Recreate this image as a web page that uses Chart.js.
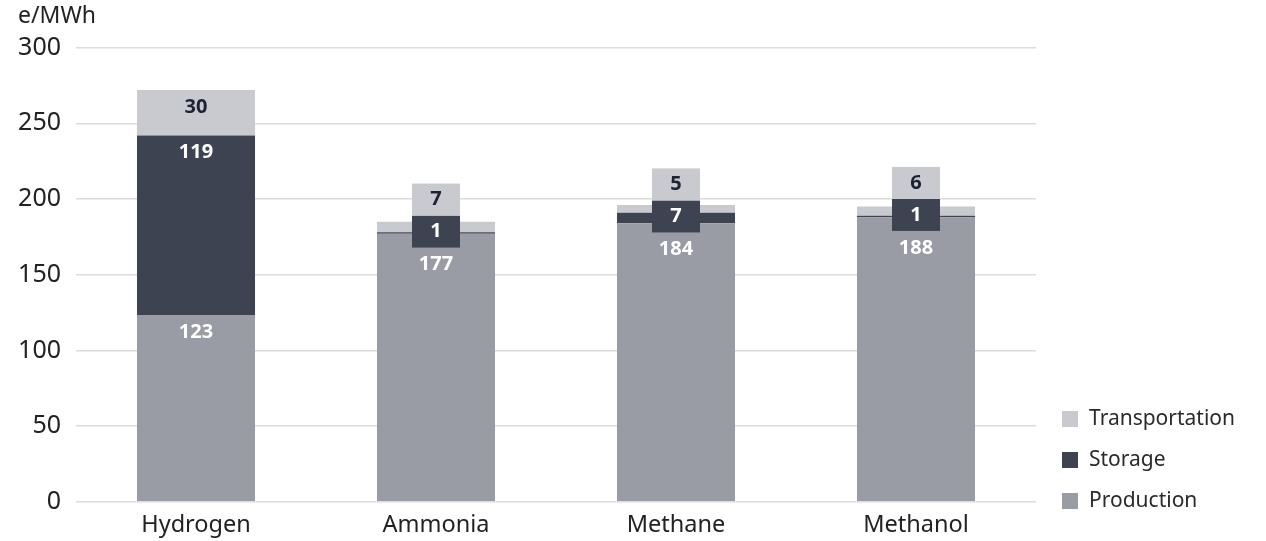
<!DOCTYPE html>
<html>
<head>
<meta charset="utf-8">
<script src="https://cdn.jsdelivr.net/npm/chart.js@4"></script>
<style>
  body { margin: 0; background: #fff; }
  #wrap { width: 1266px; height: 541px; }
</style>
</head>
<body>
<div id="wrap"><canvas id="costChart"></canvas></div>
<script>
// chart data
var categories = ["Hydrogen", "Ammonia", "Methane", "Methanol"];
var production = [123, 177, 184, 188];
var storage = [119, 1, 7, 1];
var transportation = [30, 7, 5, 6];
var yTicks = [0, 50, 100, 150, 200, 250, 300];

var colProduction = "#9a9ca5";
var colStorage = "#3e4352";
var colTransport = "#c9cacf";
var fontFamily = "'Noto Sans', 'Open Sans', sans-serif";

// Labels on the segments; small segments get a callout box
var segmentLabels = {
  id: "segmentLabels",
  afterDatasetsDraw: function (chart) {
    var ctx = chart.ctx;
    var prod = chart.getDatasetMeta(0).data;
    var stor = chart.getDatasetMeta(1).data;
    var trans = chart.getDatasetMeta(2).data;
    var boxW = 48, boxH = 32, offset = 17;

    ctx.save();
    ctx.font = "bold 20px " + fontFamily;
    ctx.textAlign = "center";
    ctx.textBaseline = "middle";

    categories.forEach(function (c, i) {
      var p = prod[i], s = stor[i], t = trans[i];
      var storBoxTop = null, storBoxBottom = null;

      // storage
      if (s.base - s.y < boxH) {
        var mid = (s.y + s.base) / 2;
        storBoxTop = mid - boxH / 2 - 1.5;
        storBoxBottom = storBoxTop + boxH;
        ctx.fillStyle = colStorage;
        ctx.fillRect(s.x - boxW / 2, storBoxTop, boxW, boxH);
        ctx.fillStyle = "#ffffff";
        ctx.fillText(String(storage[i]), s.x, mid - 1.5);
      } else {
        ctx.fillStyle = "#ffffff";
        ctx.fillText(String(storage[i]), s.x, s.y + offset);
      }

      // transportation
      if (t.base - t.y < boxH) {
        var bottom = storBoxTop !== null ? storBoxTop : t.base;
        ctx.fillStyle = colTransport;
        ctx.fillRect(t.x - boxW / 2, bottom - boxH, boxW, boxH);
        ctx.fillStyle = "#1d2333";
        ctx.fillText(String(transportation[i]), t.x, bottom - boxH / 2);
      } else {
        ctx.fillStyle = "#1d2333";
        ctx.fillText(String(transportation[i]), t.x, t.y + offset);
      }

      // production
      var py = p.y + offset;
      if (storBoxBottom !== null) py = Math.max(py, storBoxBottom + offset);
      ctx.fillStyle = "#ffffff";
      ctx.fillText(String(production[i]), p.x, py);
    });
    ctx.restore();
  }
};

// Legend drawn at the bottom right, reversed order
var sideLegend = {
  id: "sideLegend",
  afterDraw: function (chart) {
    var ctx = chart.ctx;
    var ds = chart.data.datasets;
    var x = 1062, yLast = 501, step = 41;
    ctx.save();
    ctx.font = "21px " + fontFamily;
    ctx.textAlign = "left";
    ctx.textBaseline = "middle";
    for (var k = 0; k < ds.length; k++) {
      var y = yLast - k * step;
      ctx.fillStyle = ds[k].backgroundColor;
      ctx.fillRect(x, y - 8, 16, 16);
      ctx.fillStyle = "#2a2a2a";
      ctx.fillText(ds[k].label, x + 27, y);
    }
    ctx.restore();
  }
};

var ctx = document.getElementById("costChart").getContext("2d");
var costChart = new Chart(ctx, {
  type: "bar",
  data: {
    labels: categories,
    datasets: [
      { label: "Production", data: production, backgroundColor: colProduction },
      { label: "Storage", data: storage, backgroundColor: colStorage },
      { label: "Transportation", data: transportation, backgroundColor: colTransport }
    ]
  },
  options: {
    responsive: true,
    maintainAspectRatio: false,
    animation: false,
    layout: { autoPadding: false, padding: { left: 18, right: 230, top: 0, bottom: -7 } },
    datasets: { bar: { categoryPercentage: 1, barPercentage: 0.4917 } },
    plugins: {
      legend: { display: false },
      tooltip: { enabled: false },
      title: {
        display: true,
        text: "e/MWh",
        align: "start",
        color: "#222",
        font: { family: fontFamily, size: 23, weight: "normal" },
        padding: { top: 3, bottom: 17 }
      }
    },
    scales: {
      x: {
        stacked: true,
        grid: { display: false, drawTicks: false, tickLength: 0 },
        border: { display: false },
        ticks: { color: "#222", padding: 9, font: { family: fontFamily, size: 23.5 } }
      },
      y: {
        stacked: true,
        min: 0,
        max: 300,
        afterBuildTicks: function (axis) {
          axis.ticks = yTicks.map(function (v) { return { value: v }; });
        },
        afterFit: function (axis) {
          axis.width = 58;
        },
        grid: { color: "#dcdcdc", lineWidth: 1.5, drawTicks: false, tickLength: 0 },
        border: { display: false },
        ticks: { color: "#222", padding: 15, font: { family: fontFamily, size: 25 } }
      }
    }
  },
  plugins: [segmentLabels, sideLegend]
});
</script>
</body>
</html>
